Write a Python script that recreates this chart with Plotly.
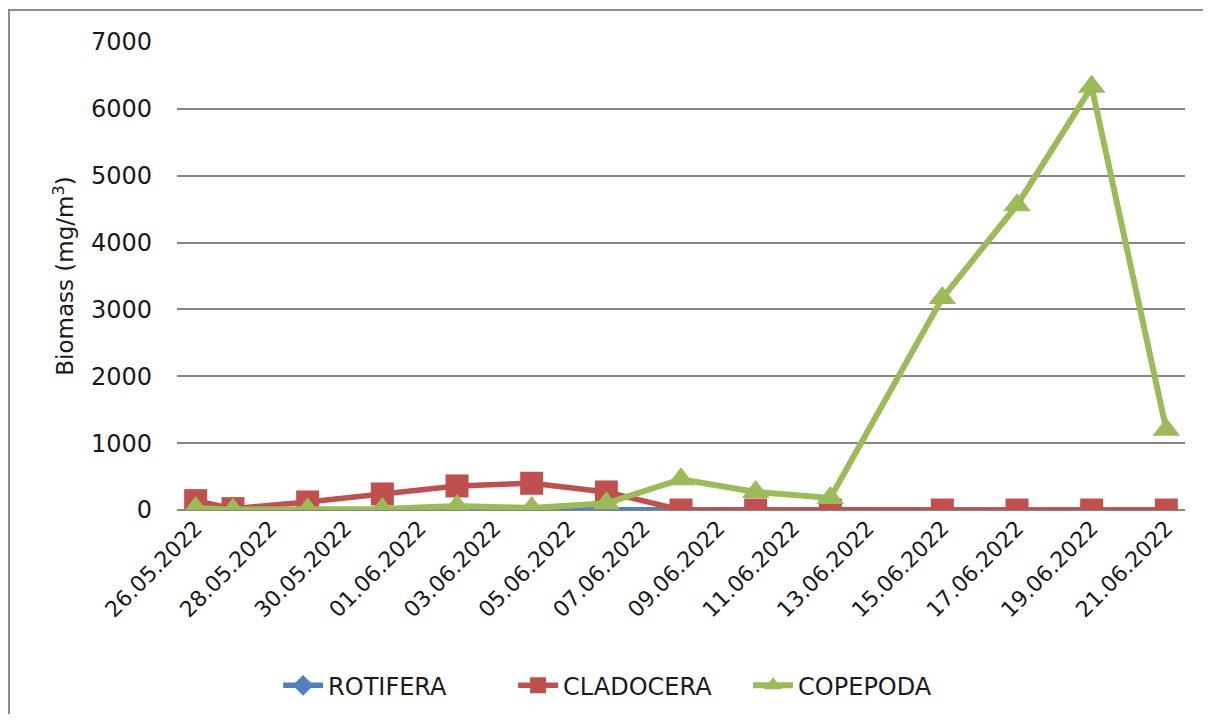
import plotly.graph_objects as go

# sampling dates and biomass values (mg/m3)
dates = ["2022-05-26", "2022-05-27", "2022-05-29", "2022-05-31", "2022-06-02",
         "2022-06-04", "2022-06-06", "2022-06-08", "2022-06-10", "2022-06-12",
         "2022-06-15", "2022-06-17", "2022-06-19", "2022-06-21"]
rotifera = [5, 2, 3, 4, 0, 3, 2, 0, 0, 0, 0, 0, 0, 0]
cladocera = [140, 20, 120, 240, 360, 400, 270, 0, 0, 0, 0, 0, 0, 0]
copepoda = [30, 5, 10, 15, 60, 30, 100, 460, 270, 180, 3170, 4560, 6330, 1200]

FONT = "DejaVu Sans"
GRID = "#868686"

fig = go.Figure()
fig.add_trace(go.Scatter(x=dates, y=rotifera, name="ROTIFERA", mode="lines+markers",
                         line=dict(color="#4F81BD", width=5.5),
                         marker=dict(symbol="diamond", size=17, color="#4F81BD")))
fig.add_trace(go.Scatter(x=dates, y=cladocera, name="CLADOCERA", mode="lines+markers",
                         line=dict(color="#C0504D", width=5.5),
                         marker=dict(symbol="square", size=23, color="#C0504D")))
fig.add_trace(go.Scatter(x=dates, y=copepoda, name="COPEPODA", mode="lines+markers",
                         line=dict(color="#9BBB59", width=6),
                         marker=dict(symbol="triangle-up", size=24, color="#9BBB59")))

# outer chart border (top and left edges visible)
fig.add_shape(type="rect", xref="paper", yref="paper",
              x0=-0.1667, x1=1.2, y0=-0.7, y1=1.0684,
              line=dict(color="#8c8c8c", width=2), layer="below")

# page body adds 8px, so figure is sized and offset to keep the plot area in place
fig.update_layout(
    width=1195, height=706,
    margin=dict(l=169, r=18, t=34, b=204, autoexpand=False),
    paper_bgcolor="white", plot_bgcolor="white",
    font=dict(family=FONT, color="#1a1a1a"),
    showlegend=True,
    legend=dict(orientation="h", x=0.45, xanchor="center",
                yref="container", y=0.04, yanchor="middle",
                font=dict(size=24, family=FONT), itemwidth=40, tracegroupgap=0,
                entrywidth=180, entrywidthmode="pixels"),
    xaxis=dict(type="date", range=["2022-05-25 12:00", "2022-06-21 12:00"],
               tick0="2022-05-26", dtick=2 * 86400000, tickformat="%d.%m.%Y",
               tickangle=-45, tickfont=dict(size=22, family=FONT),
               showgrid=False, zeroline=False, showline=False, ticks="",
               automargin=False),
    yaxis=dict(range=[0, 7000], dtick=1000, tickfont=dict(size=24, family=FONT),
               showgrid=True, gridcolor=GRID, gridwidth=2, zeroline=True,
               zerolinecolor=GRID, zerolinewidth=2, showline=False,
               ticks="", ticklabelstandoff=24, automargin=False,
               title=dict(text="Biomass (mg/m<sup>3</sup>)", font=dict(size=23, family=FONT),
                          standoff=10)),
)

fig.write_html("out.html")
